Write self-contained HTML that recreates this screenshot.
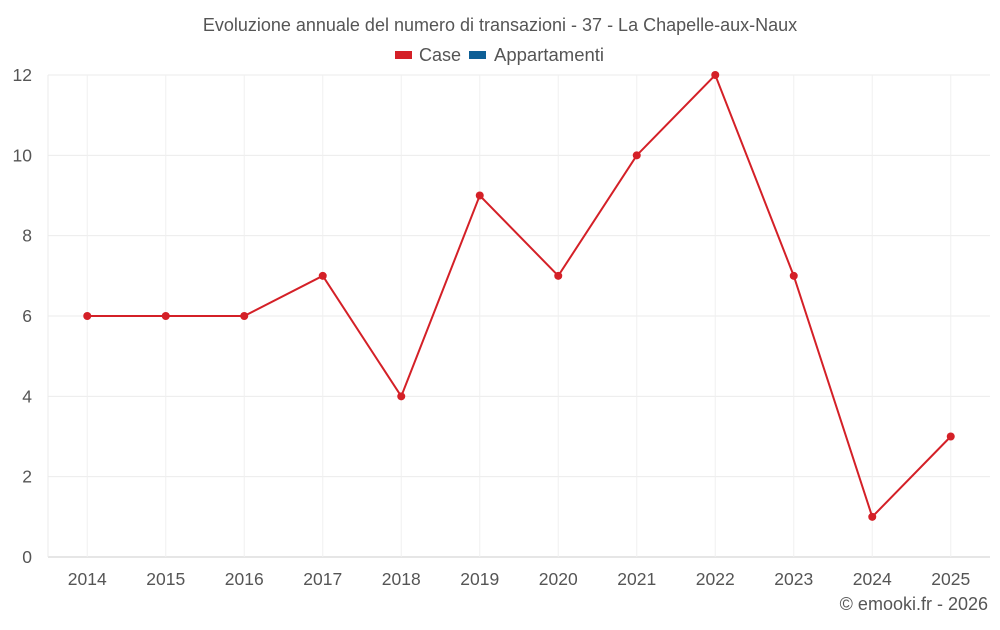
<!DOCTYPE html>
<html><head><meta charset="utf-8"><style>
body{margin:0;background:#fff;font-family:"Liberation Sans",sans-serif;}
svg text{font-family:"Liberation Sans",sans-serif;fill:#555;}
</style></head><body>
<svg id="c" width="1000" height="625" xmlns="http://www.w3.org/2000/svg">
<text x="500" y="31" text-anchor="middle" font-size="18">Evoluzione annuale del numero di transazioni - 37 - La Chapelle-aux-Naux</text>
<g>
<g><rect x="395" y="51" width="17" height="8" fill="#d42027"/><text x="419" y="61" font-size="18">Case</text></g>
<g><rect x="469" y="51" width="17" height="8" fill="#0e5f96"/><text x="494" y="61" font-size="18.5">Appartamenti</text></g>
</g>
<g id="grid"></g><g id="axes"></g><g id="series"></g>
<text x="988" y="610" text-anchor="end" font-size="18">© emooki.fr - 2026</text>
</svg>
<script>
const years=["2014","2015","2016","2017","2018","2019","2020","2021","2022","2023","2024","2025"];
const caseValues=[6,6,6,7,4,9,7,10,12,7,1,3];
const yTicks=[0,2,4,6,8,10,12];
const NS="http://www.w3.org/2000/svg";
const L=48,R=990,T=75,B=557,yMax=12;
const bw=(R-L)/years.length;
const xs=i=>L+bw*(i+0.5);
const ys=v=>B-(v/yMax)*(B-T);
function mk(tag,attrs,parent){const e=document.createElementNS(NS,tag);for(const k in attrs)e.setAttribute(k,attrs[k]);parent.appendChild(e);return e;}
const grid=document.getElementById('grid'),axes=document.getElementById('axes'),ser=document.getElementById('series');
yTicks.forEach(t=>{
 const l=mk('line',{x1:L,x2:R,y1:ys(t),y2:ys(t),stroke:t===0?'#ccc':'#ebebeb'},grid);
 
 
 const tx=mk('text',{x:32,y:ys(t)+6,'text-anchor':'end','font-size':17.5},axes);tx.textContent=t;
 
 
});
const la=mk('line',{x1:L,x2:L,y1:T,y2:B,stroke:'#ebebeb'},grid);


years.forEach((y,i)=>{
 const l=mk('line',{x1:xs(i),x2:xs(i),y1:T,y2:B,stroke:'#f0f0f0'},grid);
 
 
 const tx=mk('text',{x:xs(i),y:585,'text-anchor':'middle','font-size':17.5},axes);tx.textContent=y;
 
 
});
const p=mk('polyline',{points:caseValues.map((v,i)=>xs(i)+','+ys(v)).join(' '),fill:'none',stroke:'#d42027','stroke-width':2},ser);


caseValues.forEach((v,i)=>{
 const c=mk('circle',{cx:xs(i),cy:ys(v),r:4,fill:'#d42027'},ser);
 
 
});
</script>
</body></html>
